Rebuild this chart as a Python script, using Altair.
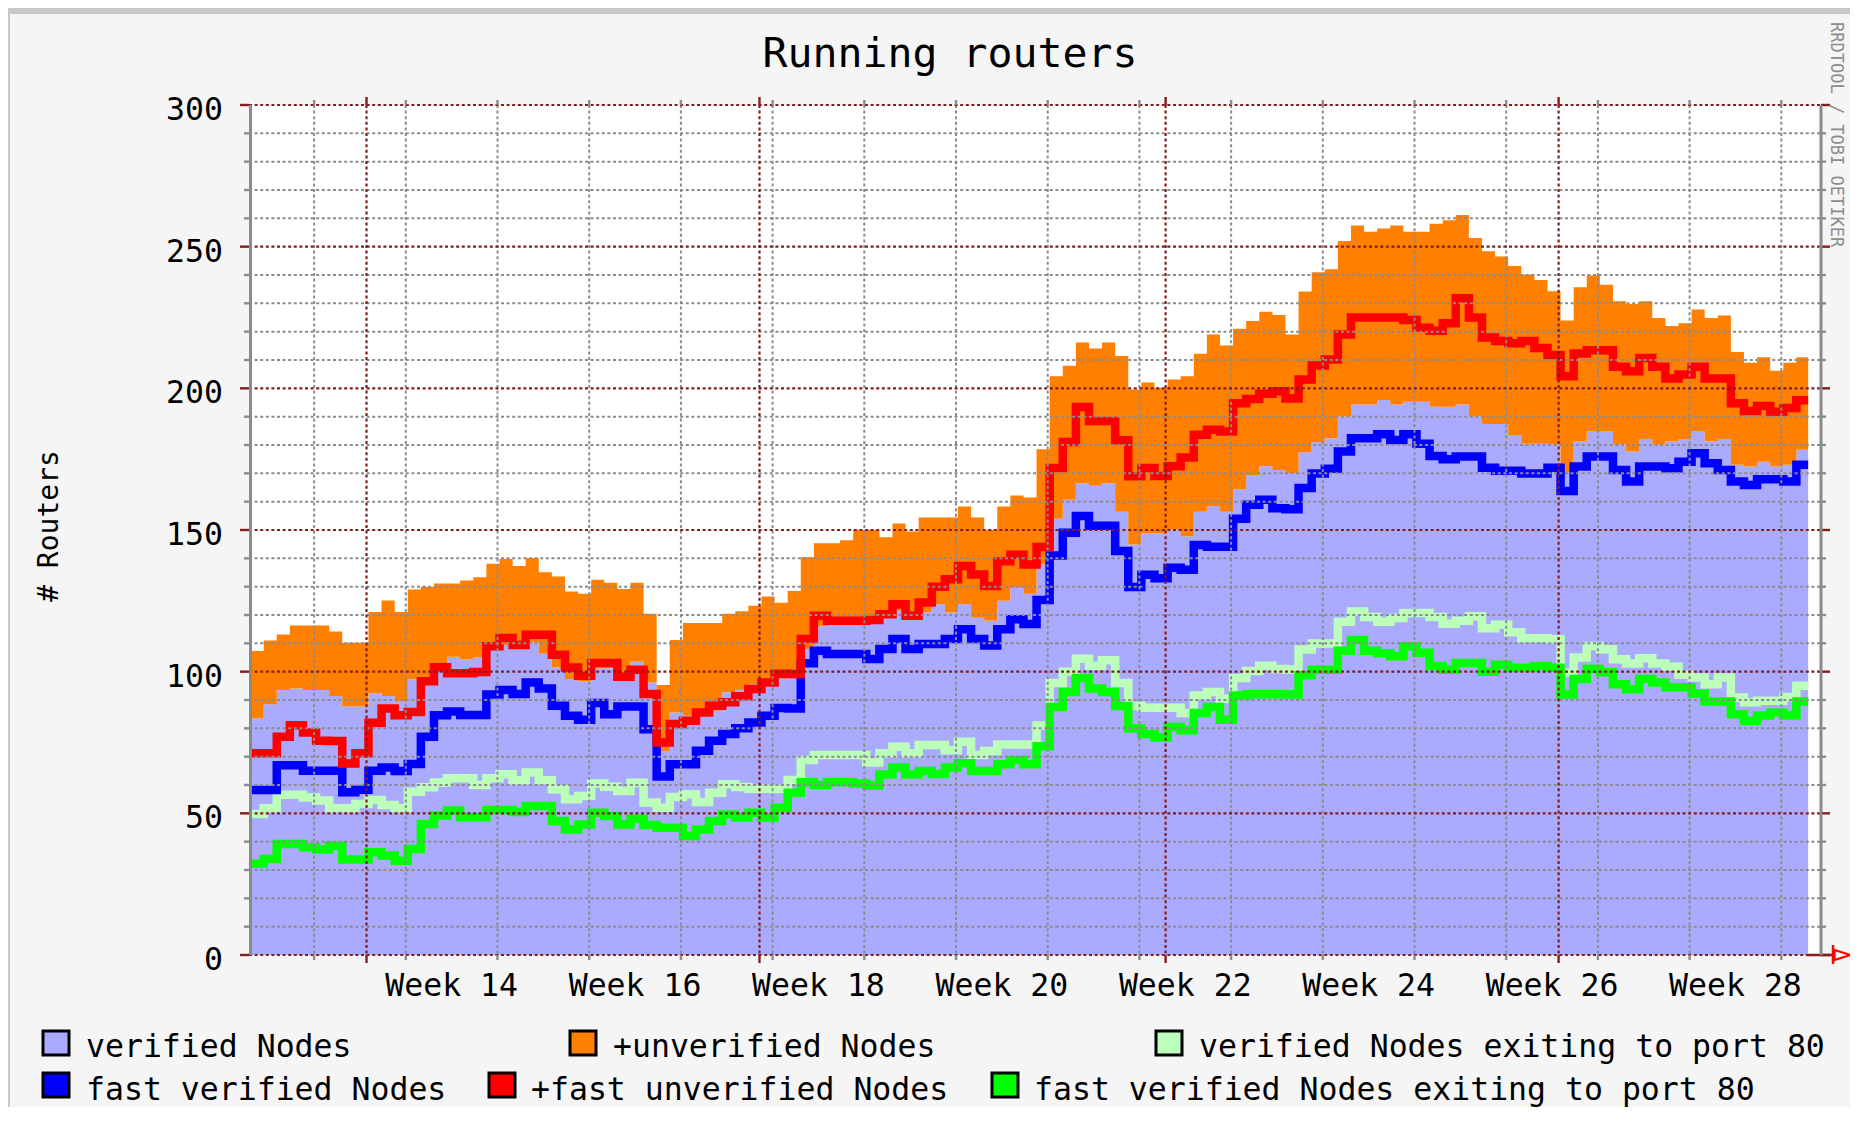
import altair as alt
import pandas as pd

# ---------------- data ----------------
# day offsets relative to 1 April 2005; each value holds for one day
DAYS = list(range(-9, 110))

ALL_NODES = [107.3, 111, 113.1, 116.3, 116.3, 116.3, 114.2, 110.2, 110.2,
             121.1, 125.1, 121.1, 129, 130, 131.1, 131.1, 132.2, 133.3, 138.1,
             139.8, 137.3, 140.1, 135.1, 133.6, 128.3, 127.5, 132.4, 131.4, 129.2,
             131.4, 120.4, 95.3, 111.2, 117.2, 117.2, 117.2, 120.4, 121.3, 123.3,
             126.5, 124.3, 128.5, 140.4, 145.3, 145.3, 146.4, 150.1, 150.1, 147.4,
             152.3, 149.5, 154.4, 154.4, 154.4, 158.3, 154.4, 150.1, 158.3, 162.2,
             161.5, 178.5, 204.3, 208, 216.2, 214.1, 216.2, 211.4, 199.6, 202.1,
             200.2, 203.1, 204.3, 212.2, 219, 215.1, 221, 223.8, 227, 225.9,
             219, 234.2, 241, 242, 252, 257.5, 255.3, 256.4, 257.5, 255.3,
             255.3, 258.1, 259.3, 261.2, 253.1, 248.4, 246.5, 243.2, 240.2, 238.2,
             234.3, 223.9, 235.7, 239.8, 236.6, 230.7, 229.8, 230.7, 224.8, 222,
             223, 227.8, 224.8, 225.7, 212.8, 209, 211, 206.2, 209, 211]

VERIFIED = [83.5, 88.5, 93.5, 94.1, 93.5, 93.5, 91.4, 87.7, 87.7,
            92.4, 91.4, 89.4, 97.3, 98, 102, 105.3, 104.3, 105, 109,
            109.3, 108, 110.4, 106.3, 101.5, 97.4, 96.5, 101.2, 101.2, 98,
            103.5, 96.2, 72, 85.6, 84.4, 86, 86.2, 92.7, 93.6, 95.6,
            97.4, 97.5, 98, 108, 116, 117.4, 117.4, 117.4, 118, 121.5,
            121.5, 119, 121, 123.8, 120.9, 123.8, 119, 118, 125, 129.6,
            127.5, 137.8, 154, 160.7, 166.5, 165.6, 166.5, 156.4, 144.9, 148.8,
            148.8, 150.2, 147.8, 156.4, 158.5, 156.4, 164.4, 169.4, 172.5, 171.2,
            170, 177.4, 181.1, 182.4, 190.1, 194.3, 194.3, 195.9, 194.3, 195.3,
            195.3, 193.5, 193.5, 194.3, 190.1, 187.4, 187.4, 183.5, 180.4, 180.4,
            180.2, 170.5, 181.2, 184.9, 184.9, 180.2, 177.7, 182.1, 180.2, 181.2,
            182.1, 184.9, 181.2, 182.1, 173, 172.4, 174.1, 172.4, 173, 178.3]

FAST_ALL = [71.2, 71.2, 77, 81.1, 78.5, 75.6, 75.5, 67.6, 71.2,
            82, 87, 84.6, 85.8, 96.6, 101.6, 99.4, 99.4, 99.9, 109,
            111.9, 109.4, 113, 113, 106, 101.5, 98.6, 103.1, 103.1, 98.2,
            100.7, 92.1, 75, 81.5, 82.7, 85.6, 88, 89.2, 91.3, 93.9,
            96.2, 99.3, 99.2, 111.5, 119.7, 118, 118, 118, 118.2, 120.3,
            123.8, 119.7, 124.4, 130, 132.6, 137.3, 134.3, 130.2, 139, 141.3,
            137.8, 144, 171.9, 181.1, 193.4, 188.5, 188.5, 181.7, 169, 171.9,
            169.1, 172.5, 175.6, 183.6, 185.4, 184.8, 194.7, 196.2, 198.1, 199,
            196.4, 203.1, 208.1, 210.2, 219, 225, 225, 225, 225, 224.1,
            221.4, 220.3, 223, 231.8, 225, 217.9, 216.7, 215.9, 216.7, 214.2,
            211.8, 204.3, 212.3, 213.4, 213.4, 207.6, 206, 210.7, 207.6, 203.5,
            204.9, 207.6, 203.5, 203.5, 194.7, 192, 193.8, 191.7, 193.1, 195.8]

FAST_VERIFIED = [58.2, 58.2, 67, 67, 65, 65, 65, 57.4, 58.3,
                 65, 66.2, 64.9, 67.4, 77, 84.6, 85.9, 84.7, 84.7, 91.9,
                 93.5, 92.1, 96.2, 94.1, 88, 84.4, 83, 88.9, 85, 87.7,
                 87.7, 79.7, 63, 67.3, 67.3, 72.1, 75.6, 78, 80, 82.1,
                 84.4, 87.2, 87, 103, 107.4, 106.2, 106.2, 106.2, 104.5, 108,
                 111.5, 108, 109.8, 109.8, 111.5, 115, 111.5, 109.2, 115, 118.5,
                 116.8, 125.3, 141, 149, 154.9, 151.5, 151.5, 142.6, 129.9, 134.2,
                 133, 136.7, 136, 144.7, 144.1, 144.1, 154, 158.9, 160.7, 157.7,
                 157.3, 164.8, 169.9, 171.6, 177.7, 182.4, 182.4, 183.8, 181.8, 183.8,
                 180.4, 176.1, 175, 175.9, 175.9, 172, 170.9, 170.9, 169.9, 169.9,
                 172, 163.8, 172.4, 175.9, 175.9, 171.2, 167.1, 172.4, 172.4, 171.8,
                 174.1, 177.1, 173.6, 171.2, 167.1, 165.9, 167.9, 167.9, 167.1, 173]

EXIT80 = [49.8, 51.8, 56.6, 56.6, 55.6, 54.5, 51.8, 51.8, 53.3,
          54.7, 52.9, 51.8, 57.6, 59.2, 60.9, 62.4, 62.4, 60, 62.4,
          63.8, 61.7, 64.4, 61.7, 58.5, 55, 56.1, 60.5, 59.4, 57.9,
          60.8, 53.8, 52, 55.8, 56.7, 54, 57.3, 60.3, 59.3, 58.7,
          58.7, 58.6, 61.8, 68.8, 70.6, 70.6, 70.6, 70.6, 67.9, 71.2,
          73.5, 71.2, 74.1, 74.1, 72.3, 75.3, 70.6, 72, 74.3, 74.3,
          74.3, 81, 96, 100, 104.6, 102.1, 104, 96, 88, 87.3,
          87.3, 87.3, 85.4, 91.6, 92.8, 90.4, 97.8, 100.2, 102.1, 100.9,
          100.8, 107.8, 109.9, 109.9, 117.6, 121.2, 119.3, 117.6, 118.9, 120.7,
          120.7, 119.3, 116.9, 118, 119.6, 115.3, 116.6, 113.9, 111.8, 111.8,
          111.4, 99.7, 105, 109.1, 107.9, 104.4, 102.9, 104.7, 102.9, 101.7,
          98.9, 97.9, 95.6, 97.9, 90.9, 89.2, 89.7, 89.7, 91.1, 95]

FAST_EXIT80 = [32.2, 33.9, 39.2, 39.2, 38, 37.2, 38.6, 33.7, 33.7,
               36.3, 35.1, 33.3, 37.4, 46.2, 49.2, 51, 48.6, 48.6, 51.2,
               51.2, 50.5, 52.6, 52.6, 47.3, 44.3, 46.1, 50.2, 49.1, 46.1,
               48.1, 45.9, 44.9, 44.9, 42, 44.3, 47.3, 49.6, 48.5, 50.2,
               48.5, 52, 57.3, 61, 60, 61, 61, 60.5, 59.8, 63.7,
               66.2, 63.7, 64.9, 63.9, 66.2, 67.7, 64.9, 64.9, 67.3, 68.8,
               67.3, 73.7, 87.5, 92.8, 97.8, 94.1, 92.8, 87.9, 79.9, 78,
               76.8, 80.5, 79.3, 85.4, 87.5, 83, 91.6, 92, 92, 92,
               91.9, 98.7, 100.7, 100.7, 107.4, 111.2, 107.4, 106.5, 105.4, 109,
               106.7, 102, 100.7, 103.1, 103.1, 100, 102.4, 101.4, 101.4, 102,
               101.4, 91.9, 97.4, 101, 99.8, 95.6, 93.8, 97.4, 96.2, 94.5,
               94.5, 92.3, 89.5, 89.5, 85, 82.7, 84.5, 85.6, 84.5, 89.5]

Y_MAJOR = [0, 50, 100, 150, 200, 250, 300]
Y_MINOR = [10, 20, 30, 40, 60, 70, 80, 90, 110, 120, 130, 140, 160, 170, 180, 190,
           210, 220, 230, 240, 260, 270, 280, 290]
WEEK_STARTS = [-4, 3, 10, 17, 24, 31, 38, 45, 52, 59, 66, 73, 80, 87, 94, 101, 108]
MONTH_STARTS = [0, 30, 61, 91]
WEEK_LABELS = ["Week 14", "Week 16", "Week 18", "Week 20",
               "Week 22", "Week 24", "Week 26", "Week 28"]
WEEK_LABEL_DAYS = [6.5, 20.5, 34.5, 48.5, 62.5, 76.5, 90.5, 104.5]

LEGEND_LABELS = ["verified Nodes", "+unverified Nodes", "verified Nodes exiting to port 80",
                 "fast verified Nodes", "+fast unverified Nodes",
                 "fast verified Nodes exiting to port 80"]
LEGEND_COLORS = ["#aaaaff", "#ff7f00", "#bbffbb", "#0000ff", "#ff0000", "#00ff00"]

# ---------------- layout ----------------
W, H = 1572, 850
X_DOMAIN = [-8.97, 111.03]
STEP_OFFSET = 0.15
DATA_END = 110.05
FONT = "DejaVu Sans Mono"
GRID = "#8c8c8c"
MGRID = "#821e1e"
AXIS = "#8a8a8a"
DASH = [3, 2.6]
LINE_W = 8.5

xs = alt.Scale(domain=X_DOMAIN, nice=False, zero=False)
ys = alt.Scale(domain=[0, 300], nice=False, zero=False)


def px(day):
    return (day - X_DOMAIN[0]) / (X_DOMAIN[1] - X_DOMAIN[0]) * W


t = [d + STEP_OFFSET for d in DAYS] + [DATA_END]
df = pd.DataFrame({
    "t": t,
    "all": ALL_NODES + ALL_NODES[-1:],
    "ver": VERIFIED + VERIFIED[-1:],
    "fall": FAST_ALL + FAST_ALL[-1:],
    "fver": FAST_VERIFIED + FAST_VERIFIED[-1:],
    "ex": EXIT80 + EXIT80[-1:],
    "fex": FAST_EXIT80 + FAST_EXIT80[-1:],
})
base = alt.Chart(df)
X = alt.X("t:Q", scale=xs, axis=None)
one = pd.DataFrame({"a": [0]})

layers = []

# solid axis stub at the bottom right (under the data)
layers.append(alt.Chart(one).mark_rule(color=MGRID, strokeWidth=2.5).encode(
    x=alt.value(px(DATA_END) - 2), x2=alt.value(W + 12), y=alt.value(H)))

# areas
layers.append(base.mark_area(interpolate="step-after", color="#aaaaff").encode(
    x=X, y=alt.Y("ver:Q", scale=ys, axis=None)))
layers.append(base.mark_area(interpolate="step-after", color="#ff7f00").encode(
    x=X, y=alt.Y("ver:Q", scale=ys, axis=None), y2="all:Q"))

# lines, in legend (drawing) order
for field, color in [("ex", "#bbffbb"), ("fver", "#0000ff"), ("fall", "#ff0000"), ("fex", "#00ff00")]:
    layers.append(base.mark_line(interpolate="step-after", color=color, strokeWidth=LINE_W,
                                 strokeJoin="miter", strokeCap="butt").encode(
        x=X, y=alt.Y(f"{field}:Q", scale=ys, axis=None)))

# grid (drawn on top, as rrdtool does)
minor_h = pd.DataFrame({"v": Y_MINOR})
major_h = pd.DataFrame({"v": Y_MAJOR})
minor_v = pd.DataFrame({"d": WEEK_STARTS})
major_v = pd.DataFrame({"d": MONTH_STARTS})

layers.append(alt.Chart(minor_h).mark_rule(color=GRID, strokeWidth=2, strokeDash=DASH).encode(
    y=alt.Y("v:Q", scale=ys, axis=None), x=alt.value(0), x2=alt.value(W)))
layers.append(alt.Chart(minor_v).mark_rule(color=GRID, strokeWidth=2, strokeDash=DASH).encode(
    x=alt.X("d:Q", scale=xs, axis=None), y=alt.value(0), y2=alt.value(H)))
layers.append(alt.Chart(major_h).mark_rule(color=MGRID, strokeWidth=2.2, strokeDash=DASH).encode(
    y=alt.Y("v:Q", scale=ys, axis=None), x=alt.value(0), x2=alt.value(W)))
layers.append(alt.Chart(major_v).mark_rule(color=MGRID, strokeWidth=2.2, strokeDash=DASH).encode(
    x=alt.X("d:Q", scale=xs, axis=None), y=alt.value(0), y2=alt.value(H)))

# solid ticks outside the plot
for dfr, col, ln in [(minor_h, GRID, 5), (major_h, MGRID, 9)]:
    layers.append(alt.Chart(dfr).mark_rule(color=col, strokeWidth=2.4).encode(
        y=alt.Y("v:Q", scale=ys, axis=None), x=alt.value(-ln), x2=alt.value(0)))
    layers.append(alt.Chart(dfr).mark_rule(color=col, strokeWidth=2.4).encode(
        y=alt.Y("v:Q", scale=ys, axis=None), x=alt.value(W), x2=alt.value(W + ln)))
for dfr, col, ln in [(minor_v, GRID, 5), (major_v, MGRID, 8)]:
    layers.append(alt.Chart(dfr).mark_rule(color=col, strokeWidth=2.4).encode(
        x=alt.X("d:Q", scale=xs, axis=None), y=alt.value(-ln), y2=alt.value(0)))
    layers.append(alt.Chart(dfr).mark_rule(color=col, strokeWidth=2.4).encode(
        x=alt.X("d:Q", scale=xs, axis=None), y=alt.value(H), y2=alt.value(H + ln)))

# axis lines (left and right frame)
layers.append(alt.Chart(one).mark_rule(color=AXIS, strokeWidth=3).encode(
    x=alt.value(1.5), y=alt.value(0), y2=alt.value(H)))
layers.append(alt.Chart(one).mark_rule(color=AXIS, strokeWidth=3).encode(
    x=alt.value(W), y=alt.value(0), y2=alt.value(H)))

# red arrow at the end of the x axis
layers.append(alt.Chart(one).mark_rule(color="#ff0000", strokeWidth=2.5).encode(
    x=alt.value(W + 12), y=alt.value(H - 10), y2=alt.value(H + 9)))
layers.append(alt.Chart(one).mark_point(
    shape="M-1,-0.62L1,0L-1,0.62Z", filled=False, color="#ff0000", strokeWidth=2.2,
    size=256, opacity=1).encode(x=alt.value(W + 21.5), y=alt.value(H)))

# y tick labels
ylab = pd.DataFrame({"v": Y_MAJOR, "s": [str(v) for v in Y_MAJOR]})
layers.append(alt.Chart(ylab).mark_text(font=FONT, fontSize=31.5, align="right",
                                         baseline="alphabetic", dy=15, color="#000000").encode(
    y=alt.Y("v:Q", scale=ys, axis=None), x=alt.value(-26), text="s:N"))

# x labels
xlab = pd.DataFrame({"d": WEEK_LABEL_DAYS, "s": WEEK_LABELS})
layers.append(alt.Chart(xlab).mark_text(font=FONT, fontSize=31.5, align="center",
                                         baseline="alphabetic", color="#000000").encode(
    x=alt.X("d:Q", scale=xs, axis=None), y=alt.value(H + 41), text="s:N"))

# title, axis title, watermark
layers.append(alt.Chart(one).mark_text(text="Running routers", font=FONT, fontSize=41.5,
                                        align="center", baseline="alphabetic", color="#000000").encode(
    x=alt.value(701), y=alt.value(-38)))
layers.append(alt.Chart(one).mark_text(text="# Routers", font=FONT, fontSize=28, angle=270,
                                        align="center", baseline="middle", color="#000000").encode(
    x=alt.value(-199), y=alt.value(421)))
layers.append(alt.Chart(one).mark_text(text="RRDTOOL / TOBI OETIKER", font=FONT, fontSize=17,
                                        angle=90, align="left", baseline="alphabetic",
                                        color="#8c8c8c").encode(
    x=alt.value(W + 10), y=alt.value(-83)))

# legend (positions are layout only)
LEG_POS = [(-206, 926, -163, 952), (321, 926, 364, 952), (907, 926, 950, 952),
           (-206, 968, -163, 995), (240, 968, 282, 995), (743, 968, 785, 995)]
for label, color, (bx, by, tx, ty) in zip(LEGEND_LABELS, LEGEND_COLORS, LEG_POS):
    layers.append(alt.Chart(one).mark_rect(color=color, stroke="#000000", strokeWidth=3).encode(
        x=alt.value(bx), x2=alt.value(bx + 26), y=alt.value(by), y2=alt.value(by + 24)))
    layers.append(alt.Chart(one).mark_text(text=label, font=FONT, fontSize=31.5, align="left",
                                            baseline="alphabetic", color="#000000").encode(
        x=alt.value(tx), y=alt.value(ty)))

# outer shade border (top / left)
layers.append(alt.Chart(one).mark_rect(color="#c8c8c8").encode(
    x=alt.value(-241), x2=alt.value(W + 29), y=alt.value(-97), y2=alt.value(-91)))
layers.append(alt.Chart(one).mark_rect(color="#c8c8c8").encode(
    x=alt.value(-241), x2=alt.value(-239), y=alt.value(-97), y2=alt.value(H + 160)))

chart = alt.layer(*layers).properties(
    width=W, height=H,
    autosize=alt.AutoSizeParams(type="none"),
    padding={"left": 241, "top": 97, "right": 29, "bottom": 152},
    background="#f5f5f5",
).configure_view(fill="#ffffff", strokeWidth=0)

chart.save("out.html", embed_options={"renderer": "svg", "actions": False})
